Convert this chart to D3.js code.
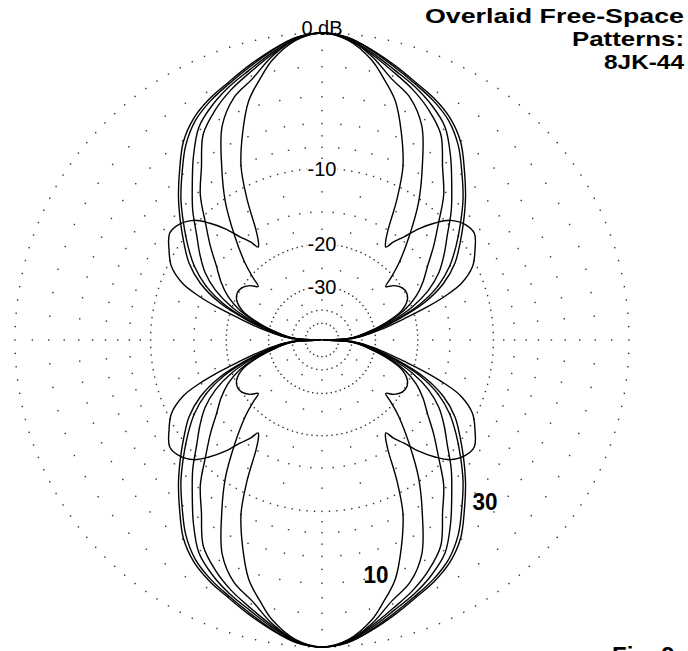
<!DOCTYPE html>
<html>
<head>
<meta charset="utf-8">
<script src="https://cdn.jsdelivr.net/npm/d3@7"></script>
<style>
  body { margin: 0; background: #fff; }
  svg { display: block; }
</style>
</head>
<body>
<div id="chart"></div>
<script>
// Free-space patterns, one quadrant each (degrees off the main axis, dB below max).
// The plot is symmetric so the other three quadrants are mirrored.
const bandNames = ['30', '20', '17', '15', '12', '10'];

const angles30 = [0, 5, 10, 15, 20, 25, 30, 35, 40, 45, 50, 55, 60, 65, 70, 75, 80, 85, 88, 90];
const gain30 = [0, -0.2, -0.75, -1.35, -1.95, -2.45, -3.1, -4.1, -5.6, -7.1, -8.7, -10.3, -11.9, -14.2, -17.8, -23.5, -29.5, -35.5, -44, -100];

const angles20 = [0, 5, 10, 15, 20, 25, 30, 35, 40, 45, 50, 55, 60, 65, 70, 75, 80, 85, 88, 90];
const gain20 = [0, -0.2, -0.8, -1.45, -2.05, -2.6, -3.3, -4.4, -5.9, -7.4, -9.1, -10.8, -12.6, -15, -18.6, -24, -30, -36.5, -44.5, -100];

const angles17 = [0, 5, 10, 15, 20, 25, 30, 35, 40, 45, 50, 55, 60, 65, 70, 75, 80, 85, 88, 90];
const gain17 = [0, -0.25, -0.9, -1.6, -2.2, -2.9, -3.8, -5.4, -7.2, -8.9, -10.8, -12.4, -14.1, -16.5, -20, -25, -31, -37.5, -45, -100];

const angles15 = [0, 5, 10, 15, 20, 25, 30, 35, 40, 45, 50, 55, 60, 65, 70, 75, 80, 85, 88, 90];
const gain15 = [0, -0.3, -1.0, -1.75, -2.45, -3.3, -4.4, -6.5, -8.3, -10.7, -12.8, -14.9, -16.6, -18.6, -21.5, -26, -32, -38, -45.5, -100];

const angles12 = [0, 5, 10, 15, 20, 25, 30, 35, 40, 45, 48, 50, 53, 57, 61, 65, 70, 75, 80, 85, 88, 90];
const gain12 = [0, -0.3, -1.1, -2.2, -3.0, -4.5, -7.3, -10.3, -14, -17.8, -20.6, -22.4, -21.0, -20.0, -19.8, -20.3, -22.2, -26.5, -32, -38.5, -46, -100];

const angles10 = [0, 5, 10, 13, 17, 21, 25, 28, 31, 33, 34.5, 36, 38.5, 41, 44, 47, 51, 55, 59.5, 64, 68, 70.5, 72.5, 75, 80, 85, 88, 90];
const gain10 = [0, -0.35, -1.3, -2.2, -3.5, -5.6, -8.1, -11.2, -15, -16.6, -17.2, -16.0, -14.5, -12.6, -10.9, -9.6, -8.8, -8.6, -9.4, -10.4, -12.3, -14.8, -17.5, -21.4, -28.2, -36, -45, -100];

// grid: dotted rings (dB) and the angular step between their dots (deg)
const gridRings = [0, -2, -4, -6, -8, -10, -12.5, -15, -17.5, -20, -25, -30, -35, -40, -50];
const gridSteps = [2.5, 5, 5, 5, 5, 2.5, 15, 5, 15, 3, 15, 5, 30, 10, 15];
// extra 1 dB dots along the main axes in the outer band
const axisDb = [-1, -3, -5, -7, -9];

const ringLabels = ['0 dB', '-10', '-20', '-30'];
const ringLabelDb = [0, -10, -20, -30];

const titleLines = ['Overlaid Free-Space', 'Patterns:', '8JK-44'];

const width = 688, height = 651;
const cx = 322, cy = 340, R = 307;

const svg = d3.select('#chart').append('svg')
    .attr('width', width)
    .attr('height', height);

const g = svg.append('g').attr('transform', `translate(${cx},${cy})`);

// ARRL log scale: every 2 dB is 0.89 of the radius, i.e. r ~ (power ratio)^0.253
const rScale = d3.scalePow().exponent(0.25305).domain([0, 1]).range([0, R]);
const radius = db => rScale(Math.pow(10, db / 10));
const aScale = d3.scaleLinear().domain([0, 360]).range([0, 2 * Math.PI]);

// grid dots
const dots = [];
gridRings.forEach((db, i) => {
    for (let a = 0; a < 360 - 1e-6; a += gridSteps[i]) dots.push({ a, db });
});
[0, 90, 180, 270].forEach(a => axisDb.forEach(db => dots.push({ a, db })));

g.append('g')
    .selectAll('rect')
    .data(dots)
    .join('rect')
    .attr('x', d => d3.pointRadial(aScale(d.a), radius(d.db))[0] - 0.7)
    .attr('y', d => d3.pointRadial(aScale(d.a), radius(d.db))[1] - 0.7)
    .attr('width', 1.4)
    .attr('height', 1.4)
    .attr('fill', '#333');

// ring labels with a white patch behind them
const labels = g.append('g')
    .style('font-family', '"Liberation Sans", Arial, sans-serif')
    .style('font-size', '20px')
    .attr('text-anchor', 'middle');

ringLabels.forEach((txt, i) => {
    const y = -radius(ringLabelDb[i]) + (i === 0 ? -5 : 0);
    const t = labels.append('text')
        .attr('x', 0)
        .attr('y', y)
        .attr('dy', '0.35em')
        .text(txt);
    const bb = t.node().getBBox();
    if (i > 0) {
        labels.insert('rect', 'text')
            .attr('x', bb.x - 1)
            .attr('y', bb.y + 3)
            .attr('width', bb.width + 2)
            .attr('height', bb.height - 6)
            .attr('fill', '#fff');
    }
});

// patterns
function fullPattern(angles, gains) {
    const q = angles.map((a, i) => [a, gains[i]]);
    const pts = q.slice();
    q.slice(0, -1).reverse().forEach(p => pts.push([180 - p[0], p[1]]));
    q.slice(1).forEach(p => pts.push([180 + p[0], p[1]]));
    q.slice(1, -1).reverse().forEach(p => pts.push([360 - p[0], p[1]]));
    return pts;
}

const patterns = [
    fullPattern(angles30, gain30),
    fullPattern(angles20, gain20),
    fullPattern(angles17, gain17),
    fullPattern(angles15, gain15),
    fullPattern(angles12, gain12),
    fullPattern(angles10, gain10)
];

const line = d3.lineRadial()
    .angle(d => aScale(d[0]))
    .radius(d => radius(d[1]))
    .curve(d3.curveCatmullRomClosed.alpha(0.5));

g.append('g')
    .selectAll('path')
    .data(patterns)
    .join('path')
    .attr('class', (d, i) => 'band-' + bandNames[i])
    .attr('d', line)
    .attr('fill', 'none')
    .attr('stroke', '#000')
    .attr('stroke-width', 1.4);

// band labels
svg.append('g')
    .style('font-family', '"Liberation Sans Narrow", "Liberation Sans", Arial, sans-serif')
    .style('font-weight', 'bold')
    .style('font-size', '24px')
    .attr('text-anchor', 'middle')
    .selectAll('text')
    .data([{ t: '10', x: 376, y: 583 }, { t: '30', x: 485, y: 510 }])
    .join('text')
    .attr('x', d => d.x)
    .attr('y', d => d.y)
    .attr('textLength', 25)
    .attr('lengthAdjust', 'spacingAndGlyphs')
    .text(d => d.t);

// title
const titleLen = [259, 112, 80];
svg.append('g')
    .style('font-family', '"Liberation Sans Narrow", "Liberation Sans", Arial, sans-serif')
    .style('font-weight', 'bold')
    .style('font-size', '20px')
    .attr('text-anchor', 'end')
    .selectAll('text')
    .data(titleLines)
    .join('text')
    .attr('x', 684)
    .attr('y', (d, i) => 23 + i * 23)
    .attr('textLength', (d, i) => titleLen[i])
    .attr('lengthAdjust', 'spacingAndGlyphs')
    .text(d => d);

svg.append('text')
    .attr('x', 612)
    .attr('y', 664)
    .style('font-family', '"Liberation Sans", Arial, sans-serif')
    .style('font-weight', 'bold')
    .style('font-size', '24px')
    .text('Fig. 9');
</script>
</body>
</html>
